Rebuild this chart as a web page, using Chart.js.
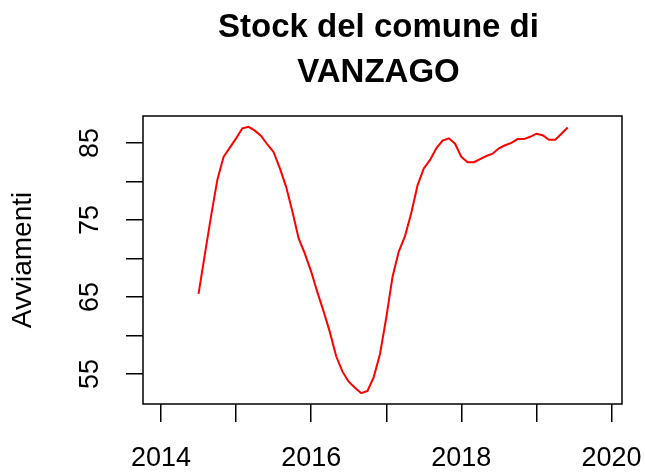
<!DOCTYPE html>
<html>
<head>
<meta charset="utf-8">
<script src="https://cdn.jsdelivr.net/npm/chart.js@4.4.0/dist/chart.umd.min.js"></script>
<style>
  body { margin: 0; background: #fff; }
  canvas { display: block; }
</style>
</head>
<body>
<canvas id="stockChart" width="645" height="473"></canvas>
<script>
const titleLines = ['Stock del comune di', 'VANZAGO'];
const yTitle = 'Avviamenti';

// monthly series, starts July 2014
const startYear = 2014;
const startMonth = 7;
const avviamenti = [
    65.4, 70.5, 75.5, 80.2, 83.2, 84.4, 85.6, 86.9, 87.1, 86.6, 85.9, 84.8,
    83.8, 81.7, 79.3, 76.1, 72.6, 70.6, 68.3, 65.6, 63.1, 60.4, 57.3, 55.3,
    54.0, 53.2, 52.5, 52.8, 54.6, 57.6, 62.3, 67.6, 70.9, 72.9, 75.9, 79.5,
    81.7, 82.8, 84.3, 85.3, 85.6, 84.9, 83.2, 82.5, 82.5, 82.9, 83.3, 83.6,
    84.3, 84.7, 85.0, 85.5, 85.5, 85.8, 86.2, 86.0, 85.4, 85.4, 86.2, 87.0
];

const xTicks = [2014, 2015, 2016, 2017, 2018, 2019, 2020];
const xTickLabels = [2014, 2016, 2018, 2020];
const yTicks = [55, 60, 65, 70, 75, 80, 85];
const yTickLabels = [55, 65, 75, 85];

const points = avviamenti.map((v, i) => ({
    x: startYear + (startMonth - 1 + i) / 12,
    y: v
}));

const FONT = "'Liberation Sans', Arial, Helvetica, sans-serif";

const bgPlugin = {
    id: 'bg',
    beforeDraw(chart) {
        const ctx = chart.ctx;
        ctx.save();
        ctx.fillStyle = '#fff';
        ctx.fillRect(0, 0, chart.width, chart.height);
        ctx.restore();
    }
};

const boxPlugin = {
    id: 'box',
    afterDraw(chart) {
        const { ctx, chartArea: a } = chart;
        ctx.save();
        ctx.strokeStyle = '#000';
        ctx.lineWidth = 1.5;
        ctx.strokeRect(a.left, a.top, a.right - a.left, a.bottom - a.top);
        ctx.restore();
    }
};

const titlePlugin = {
    id: 'rtitle',
    afterDraw(chart) {
        const ctx = chart.ctx;
        const a = chart.chartArea;
        const cx = (a.left + a.right) / 2 - 4;
        ctx.save();
        ctx.fillStyle = '#000';
        ctx.font = 'bold 33px ' + FONT;
        ctx.textAlign = 'center';
        ctx.textBaseline = 'alphabetic';
        ctx.fillText(titleLines[0], cx, 37);
        ctx.fillText(titleLines[1], cx, 82);
        ctx.restore();
    }
};

const config = {
    type: 'line',
    data: {
        datasets: [{
            data: points,
            borderColor: '#ff0000',
            borderWidth: 2,
            pointRadius: 0,
            tension: 0,
            fill: false
        }]
    },
    options: {
        responsive: false,
        animation: false,
        events: [],
        layout: { padding: { top: 116, right: 23, bottom: 0, left: 0 } },
        plugins: {
            legend: { display: false },
            title: { display: false },
            tooltip: { enabled: false }
        },
        scales: {
            x: {
                type: 'linear',
                min: 2013.76,
                max: 2020.14,
                afterBuildTicks: (axis) => { axis.ticks = xTicks.map(v => ({ value: v })); },
                afterFit: (axis) => {
                    axis.height = 69;
                    axis.paddingLeft = 0;
                    axis.paddingRight = 0;
                },
                border: { display: false },
                grid: {
                    drawOnChartArea: false,
                    drawTicks: true,
                    tickLength: 18,
                    tickColor: '#000',
                    lineWidth: 1.5
                },
                ticks: {
                    autoSkip: false,
                    maxRotation: 0,
                    padding: 20,
                    color: '#000',
                    font: { family: FONT, size: 27 },
                    callback: (v) => xTickLabels.includes(v) ? String(v) : ''
                }
            },
            y: {
                min: 51.1,
                max: 88.5,
                afterBuildTicks: (axis) => { axis.ticks = yTicks.map(v => ({ value: v })); },
                afterFit: (axis) => {
                    axis.width = 143;
                    axis.paddingTop = 0;
                    axis.paddingBottom = 0;
                },
                border: { display: false },
                grid: {
                    drawOnChartArea: false,
                    drawTicks: true,
                    tickLength: 17,
                    tickColor: '#000',
                    lineWidth: 1.5
                },
                title: {
                    display: true,
                    text: yTitle,
                    color: '#000',
                    padding: { top: 6, bottom: 0 },
                    font: { family: FONT, size: 28 }
                },
                ticks: {
                    autoSkip: false,
                    minRotation: 90,
                    maxRotation: 90,
                    crossAlign: 'center',
                    padding: 20,
                    color: '#000',
                    font: { family: FONT, size: 27 },
                    callback: (v) => yTickLabels.includes(v) ? String(v) : ''
                }
            }
        }
    },
    plugins: [bgPlugin, boxPlugin, titlePlugin]
};

const stockChart = new Chart(document.getElementById('stockChart'), config);
</script>
</body>
</html>
